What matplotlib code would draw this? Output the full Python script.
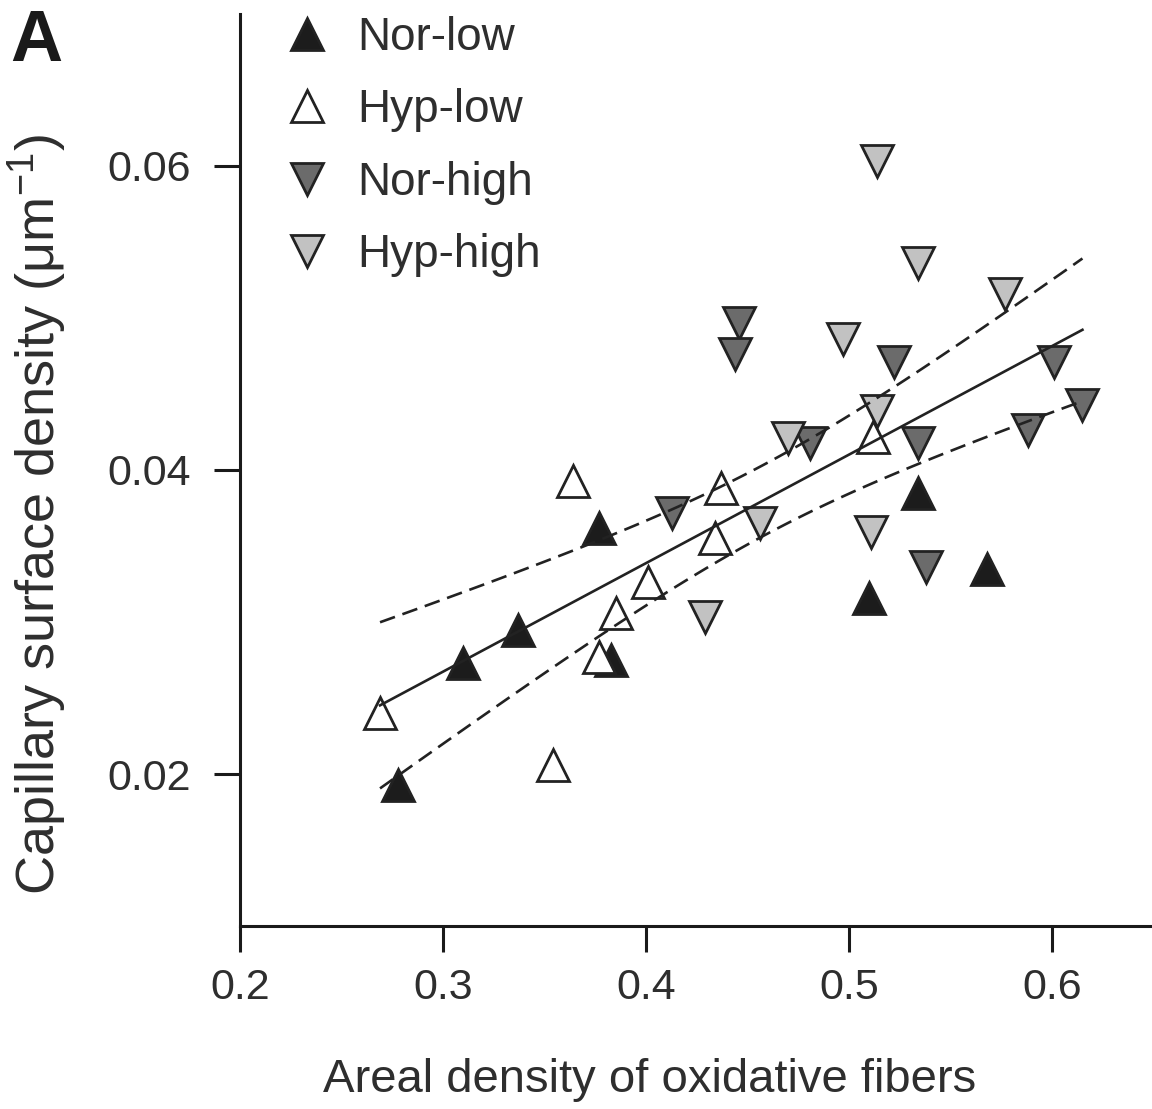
import numpy as np
import matplotlib
matplotlib.use("Agg")
import matplotlib.pyplot as plt

plt.rcParams['font.family'] = ['Liberation Sans', 'DejaVu Sans']
plt.rcParams['mathtext.fontset'] = 'custom'
plt.rcParams['mathtext.rm'] = 'Liberation Sans'
plt.rcParams['mathtext.default'] = 'regular'

# areal density of oxidative fibers (x), capillary surface density (y)
nor_low_x = [0.278, 0.310, 0.337, 0.377, 0.383, 0.510, 0.534, 0.568]
nor_low_y = [0.0193, 0.0273, 0.0295, 0.0362, 0.0275, 0.0316, 0.0385, 0.0335]
hyp_low_x = [0.269, 0.354, 0.364, 0.377, 0.385, 0.401, 0.434, 0.437, 0.512]
hyp_low_y = [0.0240, 0.0206, 0.0393, 0.0277, 0.0306, 0.0326, 0.0355, 0.0388, 0.0422]
nor_high_x = [0.413, 0.446, 0.444, 0.522, 0.481, 0.534, 0.601, 0.615, 0.588, 0.538]
nor_high_y = [0.0372, 0.0497, 0.0476, 0.0471, 0.0418, 0.0418, 0.0471, 0.0443, 0.0426, 0.0336]
hyp_high_x = [0.514, 0.534, 0.577, 0.497, 0.470, 0.514, 0.456, 0.511, 0.429]
hyp_high_y = [0.0603, 0.0536, 0.0516, 0.0486, 0.0421, 0.0439, 0.0365, 0.0359, 0.0303]

groups = [
    ("Nor-low", nor_low_x, nor_low_y, "^", "#1c1c1c"),
    ("Hyp-low", hyp_low_x, hyp_low_y, "^", "white"),
    ("Nor-high", nor_high_x, nor_high_y, "v", "#6b6b6b"),
    ("Hyp-high", hyp_high_x, hyp_high_y, "v", "#c2c2c2"),
]

# linear fit on all points + 95% confidence band of the mean
x_all = np.array(nor_low_x + hyp_low_x + nor_high_x + hyp_high_x)
y_all = np.array(nor_low_y + hyp_low_y + nor_high_y + hyp_high_y)
n = len(x_all)
slope, icpt = np.polyfit(x_all, y_all, 1)
resid = y_all - (slope * x_all + icpt)
s = np.sqrt(np.sum(resid ** 2) / (n - 2))
sxx = np.sum((x_all - x_all.mean()) ** 2)
t_val = 2.032  # t(0.975, df=34)
xf = np.linspace(x_all.min(), x_all.max(), 100)
yf = slope * xf + icpt
half = t_val * s * np.sqrt(1.0 / n + (xf - x_all.mean()) ** 2 / sxx)

fig = plt.figure(figsize=(11.52, 11.09), dpi=100)
ax = fig.add_axes([0.2083, 0.165, 0.793, 0.8224])

for name, xs, ys, mk, col in groups:
    ax.plot(xs, ys, linestyle="none", marker=mk, markersize=23,
            markerfacecolor=col, markeredgecolor="#222222",
            markeredgewidth=2.0, label=name, zorder=2)

ax.plot(xf, yf, color="#222222", lw=1.9, zorder=3)
ax.plot(xf, yf + half, color="#222222", lw=1.9, dashes=(6, 3), zorder=3)
ax.plot(xf, yf - half, color="#222222", lw=1.9, dashes=(6, 3), zorder=3)

ax.set_xlim(0.2, 0.65)
ax.set_ylim(0.01, 0.07)
ax.set_xticks([0.2, 0.3, 0.4, 0.5, 0.6])
ax.set_xticklabels(["0.2", "0.3", "0.4", "0.5", "0.6"])
ax.set_yticks([0.02, 0.04, 0.06])
ax.set_yticklabels(["0.02", "0.04", "0.06"])

for side in ["top", "right"]:
    ax.spines[side].set_visible(False)
for side in ["left", "bottom"]:
    ax.spines[side].set_linewidth(2.2)
    ax.spines[side].set_color("#1a1a1a")
ax.tick_params(axis="both", direction="out", length=19, width=2.2,
               color="#1a1a1a", labelsize=31, labelcolor="#2e2e2e")
ax.tick_params(axis="x", pad=11)
ax.tick_params(axis="y", pad=16)

leg = ax.legend(loc="upper left", bbox_to_anchor=(0.048, 0.998), frameon=False,
                fontsize=33, handlelength=1.0, handletextpad=0.6,
                labelspacing=0.62, borderpad=0, borderaxespad=0)
for txt in leg.get_texts():
    txt.set_color("#2e2e2e")

fig.text(650 / 1152, 1 - 1080 / 1109, "Areal density of oxidative fibers",
         fontsize=34, ha="center", va="center", color="#2e2e2e")
fig.text(38 / 1152, 1 - 515 / 1109, "Capillary surface density (μm$^{-1}$)",
         fontsize=39, ha="center", va="center", rotation=90, color="#2e2e2e")
fig.text(10 / 1152, 1 - 42 / 1109, "A", fontsize=52, fontweight="bold",
         ha="left", va="center", color="#1a1a1a")

fig.savefig("out.png", dpi=100)
